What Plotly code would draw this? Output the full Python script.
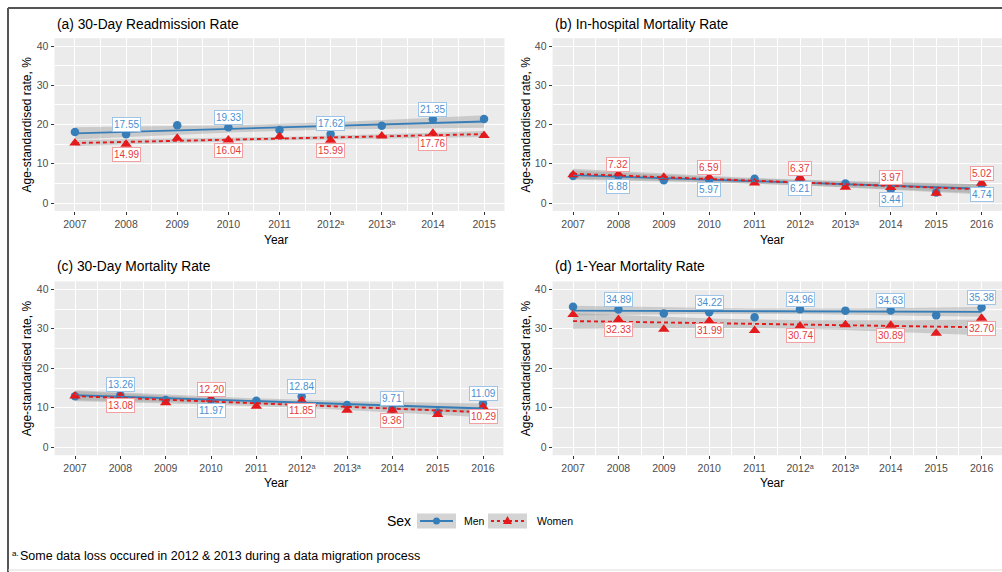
import numpy as np
import plotly.graph_objects as go

# ---------------- data ----------------
years_a = [2007, 2008, 2009, 2010, 2011, 2012, 2013, 2014, 2015]
years = [2007, 2008, 2009, 2010, 2011, 2012, 2013, 2014, 2015, 2016]
tick_text_a = ["2007", "2008", "2009", "2010", "2011", "2012\u1d43", "2013\u1d43", "2014", "2015"]
tick_text = ["2007", "2008", "2009", "2010", "2011", "2012\u1d43", "2013\u1d43", "2014", "2015", "2016"]
label_years = [2008, 2010, 2012, 2014, 2016]

readm_men = [18.1, 17.55, 19.8, 19.33, 18.6, 17.62, 19.7, 21.35, 21.4]
readm_women = [15.3, 14.99, 16.5, 16.04, 16.95, 15.99, 17.1, 17.76, 17.2]

hosp_men = [6.9, 6.88, 5.8, 5.97, 6.2, 6.21, 4.96, 3.44, 2.7, 4.74]
hosp_women = [7.2, 7.32, 6.6, 6.59, 5.1, 6.37, 4.0, 3.97, 2.5, 5.02]

mort30_men = [12.9, 13.26, 12.0, 11.97, 11.8, 12.84, 10.7, 9.71, 8.8, 11.09]
mort30_women = [13.0, 13.08, 11.3, 12.20, 10.4, 11.85, 9.4, 9.36, 8.3, 10.29]

mort1y_men = [35.6, 34.89, 33.9, 34.22, 32.9, 34.96, 34.6, 34.63, 33.4, 35.38]
mort1y_women = [33.6, 32.33, 29.9, 31.99, 29.6, 30.74, 31.0, 30.89, 28.9, 32.70]

titles = ["(a) 30-Day Readmission Rate", "(b) In-hospital Mortality Rate",
          "(c) 30-Day Mortality Rate", "(d) 1-Year Mortality Rate"]
y_ticks = [0, 10, 20, 30, 40]
sexes = ["Men", "Women"]

# ---------------- style ----------------
W, H = 1002, 572
FONT = "Liberation Sans, Arial, DejaVu Sans, sans-serif"
MEN_C = "#377EB8"
WOMEN_C = "#E41A1C"
MEN_LABEL = "#4A8FD0"
WOMEN_LABEL = "#E43A3C"
MEN_BORDER = "#9EC4E8"
WOMEN_BORDER = "#F2A0A1"
BAND = "rgba(153,153,153,0.4)"
T975 = {7: 2.364624, 8: 2.306004}


def px_x(p):
    return p / W


def px_y(p):
    return 1 - p / H


def lm_band(x, y):
    x = np.asarray(x, float)
    y = np.asarray(y, float)
    n = len(x)
    b, a = np.polyfit(x, y, 1)
    xs = np.linspace(x.min(), x.max(), 80)
    yhat = a + b * xs
    resid = y - (a + b * x)
    s = np.sqrt(np.sum(resid ** 2) / (n - 2))
    xbar = x.mean()
    sxx = np.sum((x - xbar) ** 2)
    se = s * np.sqrt(1.0 / n + (xs - xbar) ** 2 / sxx)
    t = T975[n - 2]
    return xs, yhat, yhat - t * se, yhat + t * se


panels = [
    dict(x=years_a, men=readm_men, women=readm_women, ticks=tick_text_a,
         xdom=(54.5, 504.5), xr=(2006.6, 2015.4), ydom=(38.2, 210.9)),
    dict(x=years, men=hosp_men, women=hosp_women, ticks=tick_text,
         xdom=(552.6, 1002), xr=(2006.55, 2016.45), ydom=(38.2, 210.9)),
    dict(x=years, men=mort30_men, women=mort30_women, ticks=tick_text,
         xdom=(54.6, 503.4), xr=(2006.55, 2016.45), ydom=(281.4, 455.2)),
    dict(x=years, men=mort1y_men, women=mort1y_women, ticks=tick_text,
         xdom=(552.6, 1002), xr=(2006.55, 2016.45), ydom=(281.4, 455.2)),
]

fig = go.Figure()
annotations = []
layout_axes = {}

for i, p in enumerate(panels):
    k = "" if i == 0 else str(i + 1)
    xa, ya = "x" + k, "y" + k
    series = {"Men": p["men"], "Women": p["women"]}
    fits = {s: lm_band(p["x"], series[s]) for s in sexes}
    # bands
    for s in sexes:
        xs, yh, lo, hi = fits[s]
        fig.add_trace(go.Scatter(
            x=np.concatenate([xs, xs[::-1]]), y=np.concatenate([hi, lo[::-1]]),
            fill="toself", fillcolor=BAND, line=dict(width=0), mode="lines",
            hoverinfo="skip", showlegend=False, xaxis=xa, yaxis=ya))
    # points
    fig.add_trace(go.Scatter(x=p["x"], y=p["men"], mode="markers", name="Men",
                             marker=dict(symbol="circle", size=8.5, color=MEN_C),
                             showlegend=False, xaxis=xa, yaxis=ya))
    fig.add_trace(go.Scatter(x=p["x"], y=p["women"], mode="markers", name="Women",
                             marker=dict(symbol="triangle-up", size=10, color=WOMEN_C),
                             showlegend=False, xaxis=xa, yaxis=ya))
    # fit lines
    xs, yh, lo, hi = fits["Men"]
    fig.add_trace(go.Scatter(x=xs, y=yh, mode="lines", line=dict(color=MEN_C, width=1.9),
                             showlegend=False, hoverinfo="skip", xaxis=xa, yaxis=ya))
    xs, yh, lo, hi = fits["Women"]
    fig.add_trace(go.Scatter(x=xs, y=yh, mode="lines",
                             line=dict(color=WOMEN_C, width=1.9, dash="4px,3px"),
                             showlegend=False, hoverinfo="skip", xaxis=xa, yaxis=ya))
    # value labels
    for j, yr in enumerate(p["x"]):
        if yr not in label_years:
            continue
        vm, vw = p["men"][j], p["women"][j]
        for s, v, other, tc, bc in [("Men", vm, vw, MEN_LABEL, MEN_BORDER),
                                    ("Women", vw, vm, WOMEN_LABEL, WOMEN_BORDER)]:
            above = v >= other
            annotations.append(dict(
                x=yr, y=v, xref=xa, yref=ya, text=f"{v:.2f}", showarrow=False,
                yshift=10 if above else -10,
                font=dict(family=FONT, size=10, color=tc),
                bgcolor="white", bordercolor=bc, borderwidth=1, borderpad=1))

    x0, x1 = p["xdom"]
    y0, y1 = p["ydom"]
    axis_common = dict(
        showline=False, zeroline=False, ticks="outside", ticklen=3, tickwidth=1,
        tickcolor="#333333", gridcolor="white", gridwidth=1.1,
        tickfont=dict(family=FONT, size=10.5, color="#4D4D4D"))
    layout_axes["xaxis" + k] = dict(
        domain=[px_x(x0), px_x(x1)], range=list(p["xr"]), anchor=ya,
        tickmode="array", tickvals=p["x"], ticktext=p["ticks"],
        minor=dict(tickmode="linear", tick0=2006.5, dtick=1, showgrid=True,
                   gridcolor="white", gridwidth=0.5, ticks=""),
        **axis_common)
    layout_axes["yaxis" + k] = dict(
        domain=[px_y(y1), px_y(y0)], range=[-2, 42], anchor=xa,
        tickmode="array", tickvals=y_ticks, ticktext=[str(v) for v in y_ticks],
        minor=dict(tickmode="linear", tick0=5, dtick=10, showgrid=True,
                   gridcolor="white", gridwidth=0.5, ticks=""),
        **axis_common)

    # panel title
    annotations.append(dict(x=px_x(x0 + 0.5), y=px_y(24 if i < 2 else 266), xref="paper", yref="paper",
                            text=titles[i], showarrow=False, xanchor="left", yanchor="middle",
                            font=dict(family=FONT, size=13.8, color="black")))
    # y title
    annotations.append(dict(x=px_x(27 if i % 2 == 0 else 526), y=px_y((y0 + y1) / 2),
                            xref="paper", yref="paper", text="Age-standardised rate, %",
                            textangle=-90, showarrow=False, xanchor="center", yanchor="middle",
                            font=dict(family=FONT, size=12, color="black")))
    # x title
    annotations.append(dict(x=px_x(276 if i % 2 == 0 else 772), y=px_y(240 if i < 2 else 483),
                            xref="paper", yref="paper", text="Year", showarrow=False,
                            xanchor="center", yanchor="middle",
                            font=dict(family=FONT, size=12, color="black")))

# ---------------- legend (manual) ----------------
shapes = []
leg_y = 521
annotations.append(dict(x=px_x(399), y=px_y(leg_y), xref="paper", yref="paper", text="Sex",
                        showarrow=False, xanchor="center", yanchor="middle",
                        font=dict(family=FONT, size=14, color="black")))
for (kx0, kx1, color, dash, sym, lab, tx) in [
        (417, 456, MEN_C, "solid", "circle", "Men", 462),
        (488, 527, WOMEN_C, "dot", "triangle", "Women", 535)]:
    shapes.append(dict(type="rect", xref="paper", yref="paper",
                       x0=px_x(kx0), x1=px_x(kx1), y0=px_y(leg_y + 7.5), y1=px_y(leg_y - 7.5),
                       fillcolor="#D4D4D4", line=dict(width=0), layer="above"))
    shapes.append(dict(type="line", xref="paper", yref="paper",
                       x0=px_x(kx0 + 3), x1=px_x(kx1 - 3), y0=px_y(leg_y), y1=px_y(leg_y),
                       line=dict(color=color, width=1.9, dash="solid" if dash == "solid" else "3px,3px"),
                       layer="above"))
    cx = (kx0 + kx1) / 2
    if sym == "circle":
        shapes.append(dict(type="circle", xref="paper", yref="paper",
                           x0=px_x(cx - 3.5), x1=px_x(cx + 3.5), y0=px_y(leg_y + 3.5), y1=px_y(leg_y - 3.5),
                           fillcolor=color, line=dict(width=0), layer="above"))
    else:
        path = "M {} {} L {} {} L {} {} Z".format(
            px_x(cx - 4.5), px_y(leg_y + 3), px_x(cx + 4.5), px_y(leg_y + 3), px_x(cx), px_y(leg_y - 5))
        shapes.append(dict(type="path", xref="paper", yref="paper", path=path,
                           fillcolor=color, line=dict(width=0), layer="above"))
    annotations.append(dict(x=px_x(tx), y=px_y(leg_y), xref="paper", yref="paper", text=lab,
                            showarrow=False, xanchor="left", yanchor="middle",
                            font=dict(family=FONT, size=10.5, color="black")))

# footnote
annotations.append(dict(x=px_x(10), y=px_y(553), xref="paper", yref="paper",
                        text="a.", showarrow=False, xanchor="left", yanchor="middle",
                        font=dict(family=FONT, size=8, color="black")))
annotations.append(dict(x=px_x(18), y=px_y(556), xref="paper", yref="paper",
                        text="Some data loss occured in 2012 &amp; 2013 during a data migration process",
                        showarrow=False, xanchor="left", yanchor="middle",
                        font=dict(family=FONT, size=12.5, color="black")))

# frame
shapes.append(dict(type="line", xref="paper", yref="paper", x0=px_x(8), x1=1, y0=px_y(8), y1=px_y(8),
                   line=dict(color="#555555", width=2), layer="above"))
shapes.append(dict(type="line", xref="paper", yref="paper", x0=px_x(8), x1=px_x(8), y0=px_y(8), y1=0,
                   line=dict(color="#555555", width=2), layer="above"))
shapes.append(dict(type="line", xref="paper", yref="paper", x0=px_x(8), x1=1, y0=px_y(570), y1=px_y(570),
                   line=dict(color="#DDDDDD", width=1), layer="above"))

fig.update_layout(
    width=W, height=H, margin=dict(l=0, r=0, t=0, b=0),
    paper_bgcolor="white", plot_bgcolor="#EBEBEB",
    showlegend=False, annotations=annotations, shapes=shapes,
    font=dict(family=FONT), **layout_axes)

fig.write_html("out.html", config={"displayModeBar": False},
               post_script="document.body.style.margin='0';document.body.style.overflow='hidden';")
